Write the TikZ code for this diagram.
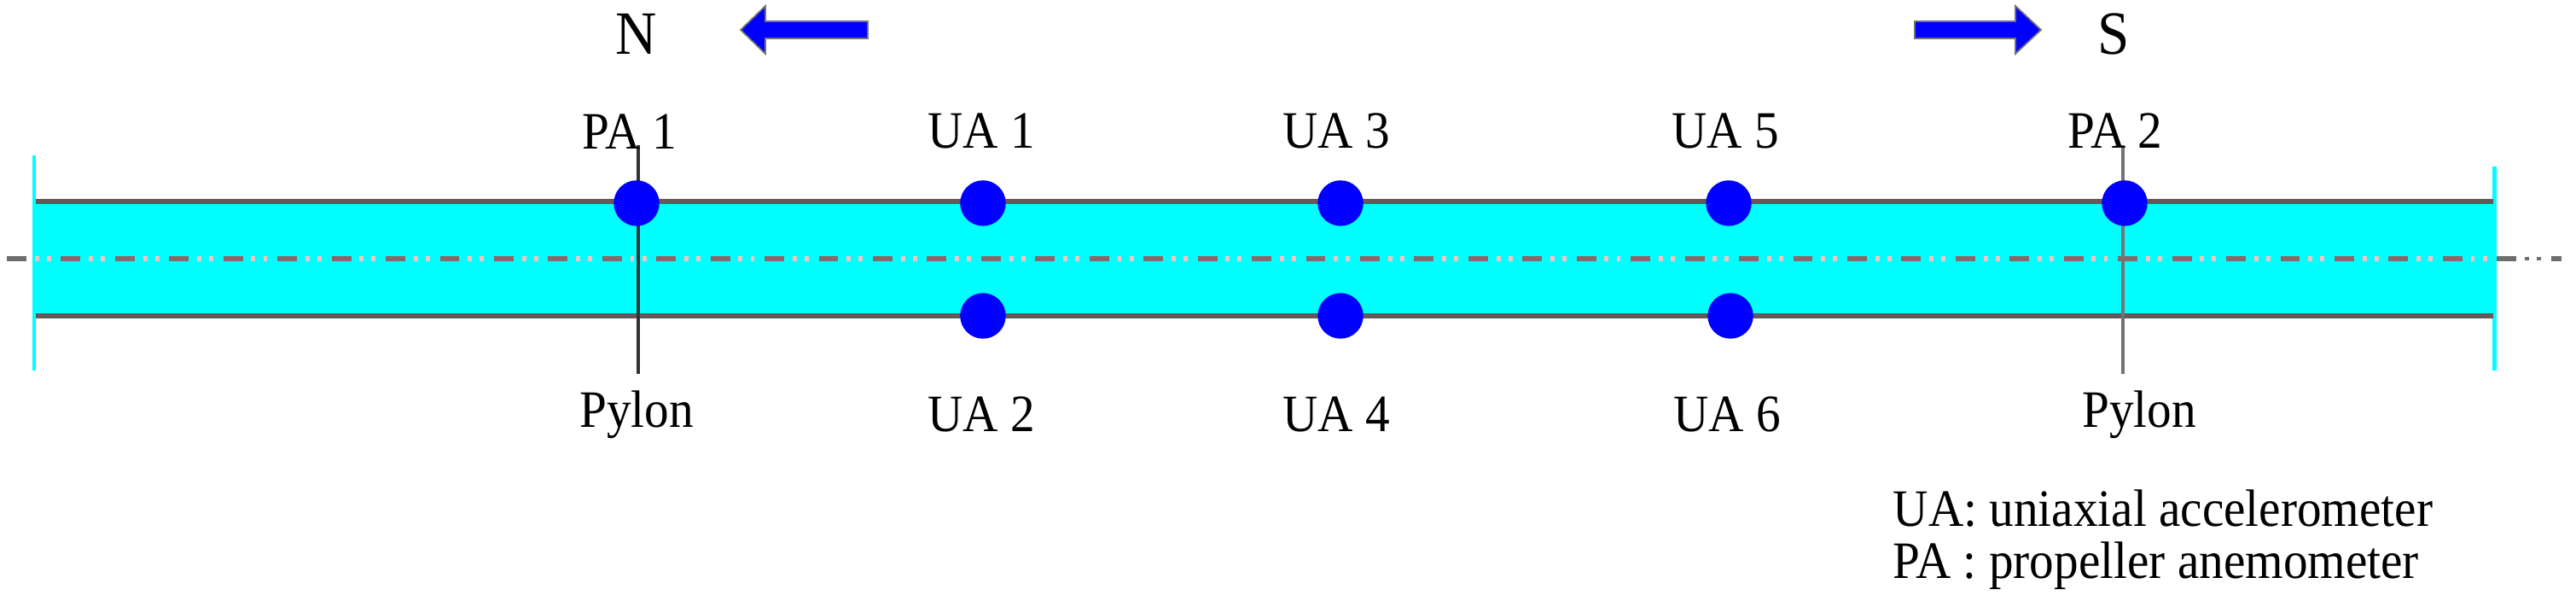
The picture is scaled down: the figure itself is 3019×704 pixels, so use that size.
\documentclass[tikz,border=0pt]{standalone}
\usepackage{fontspec}
\setmainfont[FakeStretch=0.93]{Liberation Serif}
\definecolor{bandcyan}{RGB}{0,255,255}
\definecolor{rail}{RGB}{100,88,88}
\definecolor{sens}{RGB}{0,0,255}
\definecolor{cline}{RGB}{110,110,110}
\definecolor{cdash}{RGB}{135,105,105}
\definecolor{cdot}{RGB}{245,195,195}
\begin{document}
\begin{tikzpicture}[x=0.01cm,y=-0.01cm,
  lab/.style={inner sep=0pt,font=\fontsize{17.5}{20}\selectfont,text=black},
  biglab/.style={inner sep=0pt,font=\fontsize{20.5}{24}\selectfont,text=black},
  sensor/.style={circle,fill=sens,draw=none,minimum size=15.2pt,inner sep=0pt},
  railline/.style={draw=rail,line width=1.8pt},
  pylonA/.style={draw=black!80,line width=1pt},
  pylonB/.style={draw=black!55,line width=1pt},
  tickline/.style={draw=bandcyan,line width=1.4pt},
  dashpat/.style={line width=1.6pt,dash pattern=on 6.5pt off 11.54pt},
  dotpat/.style={line width=1.6pt,dash pattern=on 0pt off 9.3pt on 1.4pt off 2.6pt on 1.4pt off 3.34pt},
  bigarrow/.style={fill=sens,draw=black!55,line width=.5pt,line join=miter}]
\useasboundingbox (0,0) rectangle (3019,704);
\fill[bandcyan] (38,237) rectangle (2926,369);
\coordinate (t1) at (40,182); \coordinate (t2) at (40,434);
\coordinate (t3) at (2923,195); \coordinate (t4) at (2923,434);
\draw[tickline] (t1) -- (t2); \draw[tickline] (t3) -- (t4);
\coordinate (r1) at (42,236); \coordinate (r2) at (2922,236);
\coordinate (r3) at (42,370); \coordinate (r4) at (2922,370);
\draw[railline] (r1) -- (r2); \draw[railline] (r3) -- (r4);
\coordinate (c1) at (8,303); \coordinate (c2) at (3002,303);
\draw[cline,dashpat] (c1) -- (c2);
\draw[cline,dotpat,line width=1pt] (c1) -- (c2);
\begin{scope}
\clip (38,237) rectangle (2926,369);
\fill[bandcyan] (38,290) rectangle (2926,316);
\draw[cdash,dashpat] (c1) -- (c2);
\draw[cdot,dotpat] (c1) -- (c2);
\end{scope}
\coordinate (p1t) at (748,170); \coordinate (p1b) at (748,438);
\coordinate (p2t) at (2488,170); \coordinate (p2b) at (2488,438);
\draw[pylonA] (p1t) -- (p1b);
\draw[pylonB] (p2t) -- (p2b);
\node[sensor] (pa1) at (746,238) {};
\node[sensor] (ua1) at (1152,238) {};
\node[sensor] (ua3) at (1571,238) {};
\node[sensor] (ua5) at (2026,238) {};
\node[sensor] (pa2) at (2490,238) {};
\node[sensor] (ua2) at (1152,370) {};
\node[sensor] (ua4) at (1571,370) {};
\node[sensor] (ua6) at (2028,370) {};
\node[lab] (lpa1) at (738,154) {PA 1};
\node[lab] (lua1) at (1150,153) {UA 1};
\node[lab] (lua3) at (1566,153) {UA 3};
\node[lab] (lua5) at (2022,153) {UA 5};
\node[lab] (lpa2) at (2479,153) {PA 2};
\node[lab] (lua2) at (1150,485) {UA 2};
\node[lab] (lua4) at (1566,485) {UA 4};
\node[lab] (lua6) at (2024,485) {UA 6};
\node[lab] (py1) at (746,486) {Pylon};
\node[lab] (py2) at (2507,486) {Pylon};
\node[biglab] (n) at (746,40) {N};
\node[biglab] (s) at (2477,40) {S};
\node[lab,anchor=west] (leg1) at (2218,596) {UA: uniaxial accelerometer};
\node[lab,anchor=west] (leg2) at (2218,663) {PA : propeller anemometer};
\draw[bigarrow] (868,35) -- (897,7) -- (897,25) -- (1017,25) -- (1017,45) -- (897,45) -- (897,63) -- cycle;
\draw[bigarrow] (2392,35) -- (2362,7) -- (2362,25) -- (2244,25) -- (2244,45) -- (2362,45) -- (2362,63) -- cycle;
\end{tikzpicture}
\end{document}
